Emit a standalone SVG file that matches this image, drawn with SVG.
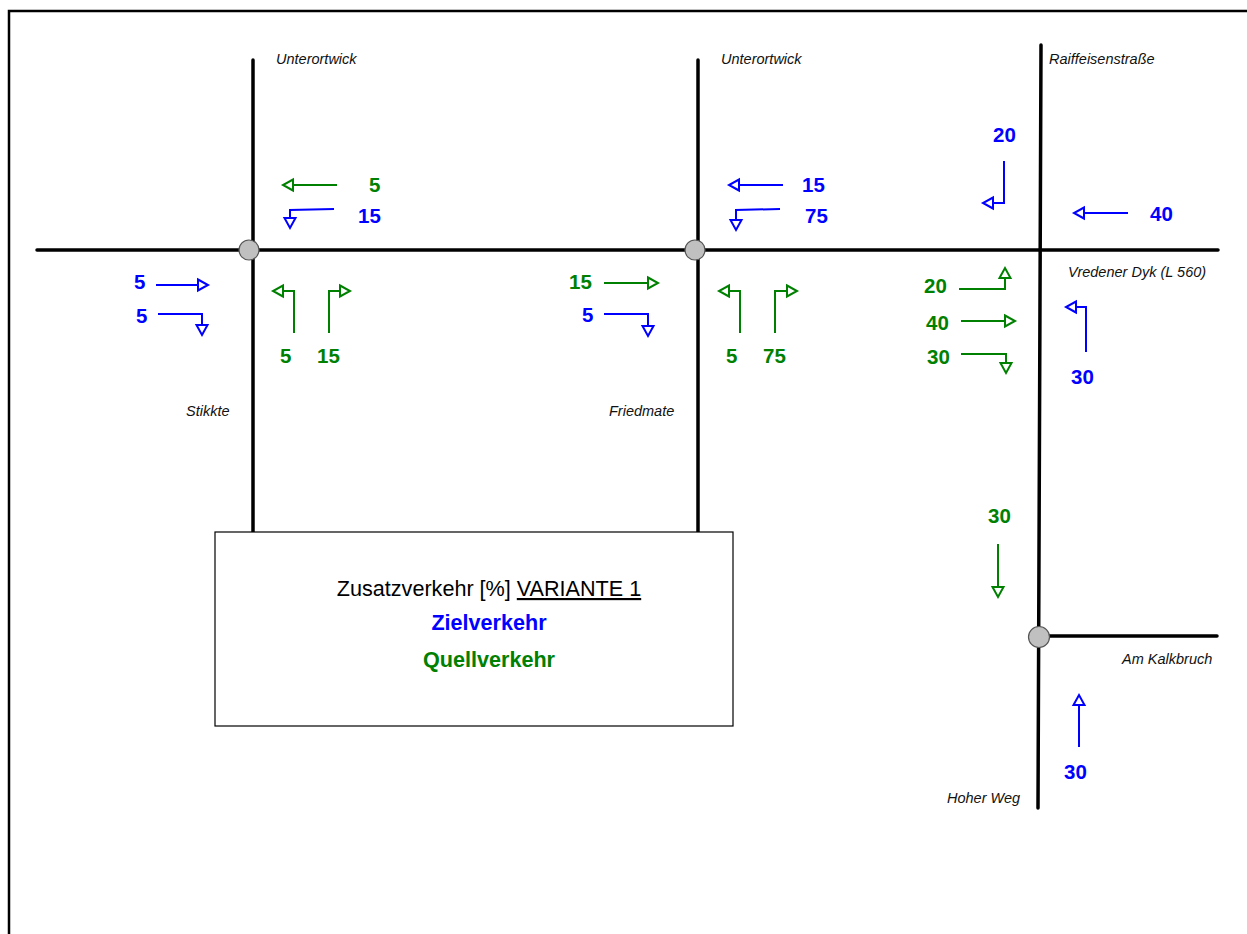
<svg xmlns="http://www.w3.org/2000/svg" width="1247" height="934" viewBox="0 0 1247 934">
<style>
.road{stroke:#000;stroke-width:3.5;fill:none;stroke-linecap:round}
.node{fill:#c0c0c0;stroke:#555;stroke-width:1.2}
.lbl{font-family:"Liberation Sans",Arial,sans-serif;font-style:italic;font-size:14.5px;fill:#111}
.num{font-family:"Liberation Sans",Arial,sans-serif;font-weight:bold;font-size:20.5px}
.b{fill:#0000ff}
.g{fill:#008000}
.ab{stroke:#0000ff;stroke-width:2;fill:none;marker-end:url(#hb)}
.ag{stroke:#008000;stroke-width:2;fill:none;marker-end:url(#hg)}
.title{font-family:"Liberation Sans",Arial,sans-serif;font-size:21.6px}
</style>
<defs>
<marker id="hb" markerUnits="userSpaceOnUse" markerWidth="14" markerHeight="14" refX="10" refY="5.5" orient="auto" overflow="visible">
<path d="M0,0 L10,5.5 L0,11 Z" fill="#fff" stroke="#0000ff" stroke-width="2" stroke-linejoin="miter"/>
</marker>
<marker id="hg" markerUnits="userSpaceOnUse" markerWidth="14" markerHeight="14" refX="10" refY="5.5" orient="auto" overflow="visible">
<path d="M0,0 L10,5.5 L0,11 Z" fill="#fff" stroke="#008000" stroke-width="2" stroke-linejoin="miter"/>
</marker>
</defs>
<rect width="1247" height="934" fill="#fff"/>
<path d="M9,934 V11 H1247" fill="none" stroke="#000" stroke-width="2.5"/>

<g id="roads">
<path class="road" d="M37,250 H1218"/>
<path class="road" d="M253,60 V532"/>
<path class="road" d="M698,60 V532"/>
<path class="road" d="M1041,45 L1038,808"/>
<path class="road" d="M1040,636 H1217"/>
</g>

<g id="box">
<rect x="215" y="532" width="518" height="194" fill="#fff" stroke="#000" stroke-width="1.2"/>
<text class="title" x="489" y="596" text-anchor="middle" fill="#000">Zusatzverkehr [%] <tspan text-decoration="underline">VARIANTE 1</tspan></text>
<text class="title b" x="489" y="630" text-anchor="middle" font-weight="bold">Zielverkehr</text>
<text class="title g" x="489" y="667" text-anchor="middle" font-weight="bold">Quellverkehr</text>
</g>

<g id="node-left"><circle class="node" cx="249" cy="250" r="10"/></g>
<g id="node-middle"><circle class="node" cx="695" cy="250" r="10"/></g>
<g id="node-bottom"><circle class="node" cx="1039" cy="637" r="10.5"/></g>

<g id="street-labels">
<text class="lbl" x="276" y="64">Unterortwick</text>
<text class="lbl" x="721" y="64">Unterortwick</text>
<text class="lbl" x="1049" y="64">Raiffeisenstraße</text>
<text class="lbl" x="1068" y="277">Vredener Dyk (L 560)</text>
<text class="lbl" x="186" y="416">Stikkte</text>
<text class="lbl" x="609" y="416">Friedmate</text>
<text class="lbl" x="1122" y="664">Am Kalkbruch</text>
<text class="lbl" x="947" y="803">Hoher Weg</text>
</g>

<g id="connectors">
<path class="ag" d="M337,185 H283"/>
<path class="ab" d="M334,209 L290,210 V228"/>
<path class="ab" d="M156,285 H208"/>
<path class="ab" d="M158,314 H202 V335"/>
<path class="ag" d="M294,333 V291 H273"/>
<path class="ag" d="M329,333 V291 H350"/>
<path class="ab" d="M783,185 H729"/>
<path class="ab" d="M780,209 L736,210 V230"/>
<path class="ag" d="M604,283 H658"/>
<path class="ab" d="M604,314 H648 V336"/>
<path class="ag" d="M740,333 V291 H719"/>
<path class="ag" d="M775,333 V291 H797"/>
<path class="ab" d="M1004,161 V203 H983"/>
<path class="ab" d="M1128,213 H1074"/>
<path class="ag" d="M959,289 H1005 V268"/>
<path class="ag" d="M961,321 H1015"/>
<path class="ag" d="M961,354 H1006 V373"/>
<path class="ab" d="M1086,352 V307 H1066"/>
<path class="ag" d="M998,544 V597"/>
<path class="ab" d="M1079,747 V695"/>
</g>

<g id="volumes">
<text class="num g" x="369" y="192">5</text>
<text class="num b" x="358" y="223">15</text>
<text class="num b" x="134" y="289">5</text>
<text class="num b" x="136" y="323">5</text>
<text class="num g" x="280" y="363">5</text>
<text class="num g" x="317" y="363">15</text>
<text class="num b" x="802" y="192">15</text>
<text class="num b" x="805" y="223">75</text>
<text class="num g" x="569" y="289">15</text>
<text class="num b" x="582" y="322">5</text>
<text class="num g" x="726" y="363">5</text>
<text class="num g" x="763" y="363">75</text>
<text class="num b" x="993" y="142">20</text>
<text class="num b" x="1150" y="221">40</text>
<text class="num g" x="924" y="293">20</text>
<text class="num g" x="926" y="330">40</text>
<text class="num g" x="927" y="364">30</text>
<text class="num b" x="1071" y="384">30</text>
<text class="num g" x="988" y="523">30</text>
<text class="num b" x="1064" y="779">30</text>
</g>
</svg>
